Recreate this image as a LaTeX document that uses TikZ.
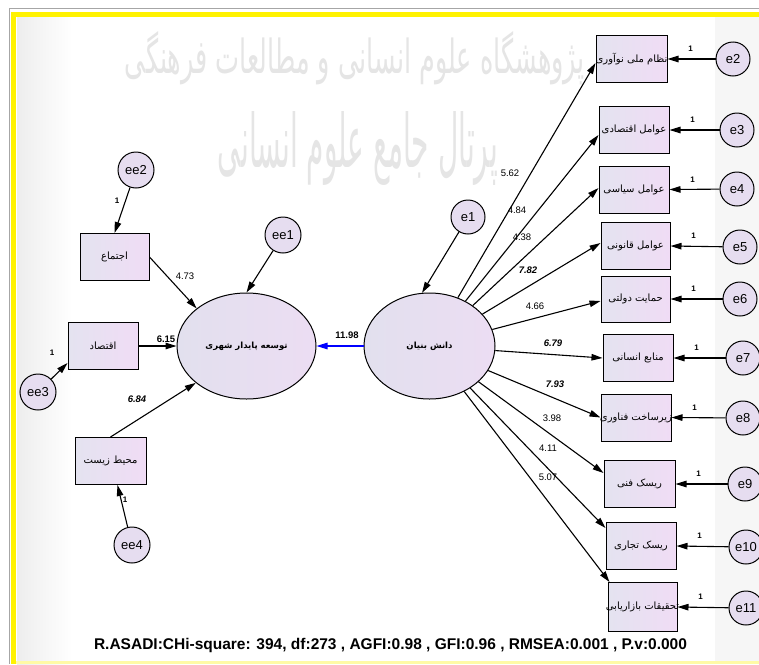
\documentclass[tikz,border=0pt]{standalone}
\usepackage{fontspec}
\usepackage{graphicx}
\setmainfont{Liberation Sans}
\newfontfamily\arabicfont[Script=Arabic]{DejaVu Sans}
\TeXXeTstate=1
\usetikzlibrary{shapes.geometric,arrows.meta,calc}
\definecolor{boxL}{HTML}{E4E3F0}
\definecolor{boxR}{HTML}{F0DCF5}
\definecolor{circfill}{HTML}{E6DDF0}
\definecolor{ellL}{HTML}{E2E0EE}
\definecolor{ellR}{HTML}{ECDDF3}
\definecolor{frameyellow}{HTML}{FFF200}
\newcommand\artxt[1]{\makebox[0pt]{\arabicfont\beginR #1\endR}}
\tikzset{
  obsbox/.style={draw, line width=1pt, minimum width=70pt, minimum height=47pt, inner sep=0pt,
    left color=boxL, right color=boxR, font=\fontsize{10}{12}\selectfont},
  errc/.style={draw, circle, line width=1pt, minimum size=34pt, inner sep=0pt, fill=circfill,
    font=\fontsize{13}{15}\selectfont},
  erre/.style={errc, minimum size=36pt},
  latent/.style={draw, ellipse, line width=1pt, inner sep=0pt, left color=ellL, right color=ellR,
    font=\fontsize{8.5}{10}\selectfont\bfseries},
  arr/.style={draw, line width=1.1pt, -{Triangle[length=11pt,width=6.5pt]}},
  coef/.style={font=\fontsize{9.5}{11}\selectfont, inner sep=0pt},
  coefb/.style={font=\fontsize{9.5}{11}\selectfont\bfseries\itshape, inner sep=0pt},
  coefbu/.style={font=\fontsize{9.5}{11}\selectfont\bfseries, inner sep=0pt},
  one/.style={font=\fontsize{8}{9}\selectfont\bfseries, inner sep=0pt},
}
\begin{document}
\begin{tikzpicture}[x=1pt,y=-1pt]
\useasboundingbox (0,0) rectangle (759,664);
% background and frame
\fill[white] (0,0) rectangle (759,664);
\shade[left color=gray!14, right color=white] (17,17) rectangle (72,664);
\fill[gray!7] (715,17) rectangle (759,664);
\draw[gray!70, line width=0.8pt] (10,8) -- (759,8);
\draw[gray!70, line width=0.8pt] (9.5,8) -- (9.5,664);
\fill[frameyellow] (11,12) rectangle (759,17);
\fill[frameyellow] (11,12) rectangle (16,664);
\fill[frameyellow!35] (16,661) rectangle (759,664);
% watermark
\node[text=gray!20, inner sep=0pt] (wm1) at (355,58)
  {\resizebox{460pt}{42pt}{\arabicfont\beginR پژوهشگاه علوم انسانی و مطالعات فرهنگی\endR}};
\node[text=gray!20, inner sep=0pt] (wm2) at (358,148)
  {\resizebox{280pt}{56pt}{\arabicfont\beginR پرتال جامع علوم انسانی\endR}};

% left part
\node[latent, minimum width=139pt, minimum height=106pt] (L) at (246.5,346) {\artxt{توسعه پایدار شهری}};
\node[obsbox, minimum width=69pt] (b1l) at (114.5,257) {\artxt{اجتماع}};
\node[obsbox] (b2l) at (103,346) {\artxt{اقتصاد}};
\node[obsbox, minimum width=71pt] (b3l) at (110.5,461) {\artxt{محیط زیست}};
\node[erre] (ee2) at (136,170) {ee2};
\node[erre] (ee1) at (283,235) {ee1};
\node[erre] (ee3) at (38,392) {ee3};
\node[erre] (ee4) at (132,545) {ee4};

\draw[arr] (ee2) -- (b1l.north);
\draw[arr] (ee1) -- (L.north);
\draw[arr] (ee3) -- ([yshift=-17pt]b2l.west);
\draw[arr] (ee4) -- ([xshift=7pt]b3l.south);
\draw[arr] (b1l.east) -- (L.143);
\draw[arr] (b2l.east) -- (L.west);
\draw[arr] (b3l.north) -- (L.216);

\node[one] (o1) at (117,201) {1};
\node[one] (o2) at (52,353) {1};
\node[one] (o3) at (125,500) {1};
\node[coef] (c473) at (185,276) {4.73};
\node[coefbu] (c615) at (166,339) {6.15};
\node[coefb] (c684) at (137,399) {6.84};

% right latent
\node[latent, minimum width=131pt, minimum height=106pt] (R) at (429.5,346) {\artxt{دانش بنیان}};
\node[errc] (e1) at (468,217) {e1};
\draw[arr] (e1) -- (R.98);
\draw[arr, blue] (R.west) -- (L.east);
\node[coefbu] (c1198) at (347,335) {11.98};

% right boxes
\node[obsbox, minimum width=71pt] (r1) at (631.5,59) {\artxt{نظام ملی نوآوری}};
\node[obsbox] (r2) at (634,130) {\artxt{عوامل اقتصادی}};
\node[obsbox] (r3) at (634,189.5) {\artxt{عوامل سیاسی}};
\node[obsbox, minimum width=69pt] (r4) at (635.5,246) {\artxt{عوامل قانونی}};
\node[obsbox, minimum width=69pt, minimum height=46pt] (r5) at (635.5,299) {\artxt{حمایت دولتی}};
\node[obsbox] (r6) at (638,358) {\artxt{منابع انسانی}};
\node[obsbox] (r7) at (636,417.5) {\artxt{زیرساخت فناوری}};
\node[obsbox, minimum width=71pt] (r8) at (639.5,484) {\artxt{ریسک فنی}};
\node[obsbox] (r9) at (641,546) {\artxt{ریسک تجاری}};
\node[obsbox, minimum width=69pt, minimum height=49pt] (r10) at (642.5,607) {\artxt{تحقیقات بازاریابی}};

\node[errc] (e2) at (733,59) {e2};
\node[errc] (e3) at (737,130) {e3};
\node[errc] (e4) at (737,189) {e4};
\node[errc] (e5) at (740,247) {e5};
\node[errc] (e6) at (740,299) {e6};
\node[errc] (e7) at (743,358) {e7};
\node[errc] (e8) at (743,418) {e8};
\node[errc] (e9) at (745,484) {e9};
\node[errc] (e10) at (746,547) {e10};
\node[errc] (e11) at (746,608) {e11};

\foreach \e/\b in {e2/r1,e3/r2,e4/r3,e5/r4,e6/r5,e7/r6,e8/r7,e9/r8,e10/r9,e11/r10}{
  \draw[arr] (\e) -- (\b.east);
  \node[one] at ($(\b.east)+(23,-10)$) {1};
}

\draw[arr] (R) -- ([yshift=-4pt]r1.west);
\draw[arr] (R) -- ([yshift=-5pt]r2.west);
\draw[arr] (R) -- ([yshift=1.5pt]r3.west);
\draw[arr] (R) -- ([yshift=3pt]r4.west);
\draw[arr] (R) -- ([yshift=-2pt]r5.west);
\draw[arr] (R) -- (r6.west);
\draw[arr] (R) -- (r7.west);
\draw[arr] (R) -- ([yshift=11pt]r8.west);
\draw[arr] (R) -- ([yshift=18pt]r9.west);
\draw[arr] (R) -- ([xshift=2pt]r10.north west);

\node[coef] (k1) at (510,173) {5.62};
\node[coef] (k2) at (517,210) {4.84};
\node[coef] (k3) at (522,237) {4.38};
\node[coefb] (k4) at (528,270) {7.82};
\node[coef] (k5) at (535,306) {4.66};
\node[coefb] (k6) at (553,343) {6.79};
\node[coefb] (k7) at (555,384) {7.93};
\node[coef] (k8) at (552,418) {3.98};
\node[coef] (k9) at (548,448) {4.11};
\node[coef] (k10) at (548,477) {5.07};

\node[font=\fontsize{15.5}{18}\selectfont\bfseries, inner sep=0pt] (fit) at (390.5,645)
  {R.ASADI:CHi-square: 394, df:273 , AGFI:0.98 , GFI:0.96 , RMSEA:0.001 , P.v:0.000};
\end{tikzpicture}
\end{document}
